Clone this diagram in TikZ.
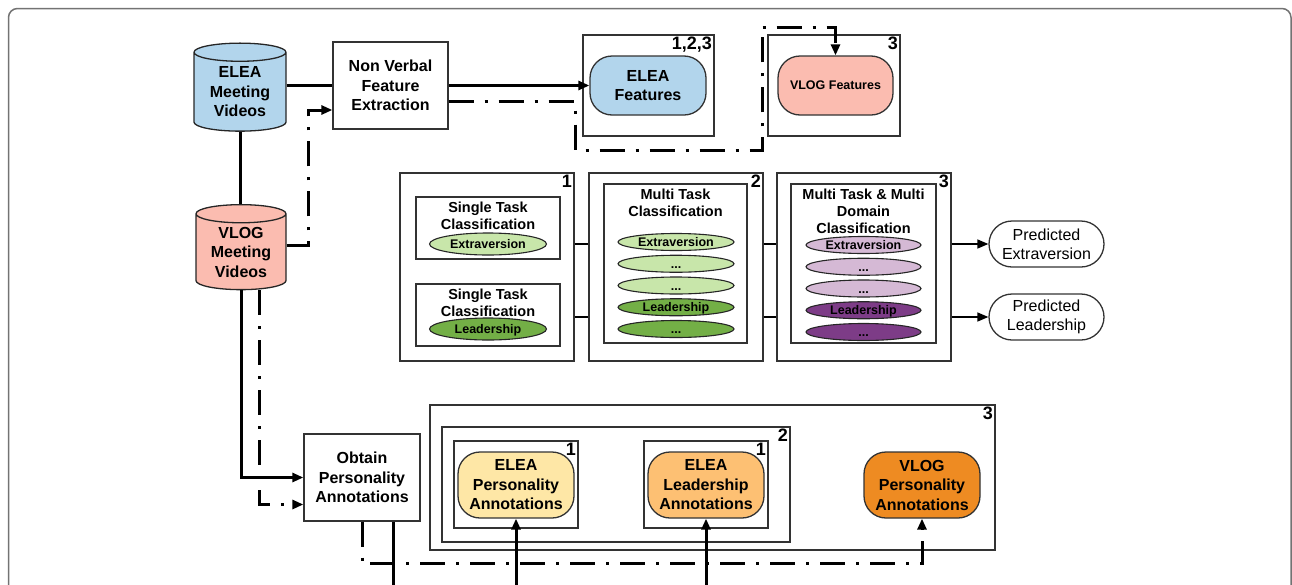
\documentclass[tikz,border=0pt]{standalone}
\usepackage{fontspec}
\setmainfont{Liberation Sans}
\usetikzlibrary{positioning, calc, shapes.geometric, arrows.meta}

\definecolor{eleablue}{RGB}{178,213,236}
\definecolor{vlogpink}{RGB}{251,188,176}
\definecolor{lgreen}{RGB}{200,230,170}
\definecolor{dgreen}{RGB}{115,175,70}
\definecolor{lpurple}{RGB}{213,185,213}
\definecolor{dpurple}{RGB}{125,60,135}
\definecolor{annyellow}{RGB}{254,231,166}
\definecolor{annpeach}{RGB}{253,192,115}
\definecolor{annorange}{RGB}{238,139,34}

\newcommand\txtL{\fontsize{16}{19.5}\selectfont\bfseries}
\newcommand\txtM{\fontsize{14.5}{17}\selectfont\bfseries}
\newcommand\txtS{\fontsize{12.5}{14}\selectfont\bfseries}
\newcommand\txtN{\fontsize{18}{18}\selectfont\bfseries}
\newcommand\etcdots{...}

\begin{document}
\begin{tikzpicture}[x=1pt, y=-1pt,
    box/.style={draw=black!80, line width=1.3pt, inner sep=0pt},
    num/.style={font=\txtN, anchor=north east, inner sep=2.5pt},
    cyl/.style={cylinder, shape border rotate=90, aspect=0.3, draw=black!85,
      line width=1.3pt, inner sep=0pt, align=center, font=\txtL},
    proc/.style={box, fill=white, align=center, font=\txtL},
    feat/.style={box, rounded corners=22pt, align=center},
    pill/.style={ellipse, draw=black!85, line width=1.1pt, inner sep=0pt,
      text height=9pt, text depth=0pt, font=\txtS},
    pred/.style={box, rounded corners=23pt, minimum width=115, minimum height=46,
      align=center, font=\fontsize{16}{19}\selectfont},
    flow/.style={line width=3pt},
    dashflow/.style={line width=3pt, dash pattern=on 25pt off 11pt on 3pt off 11pt},
    thin/.style={line width=1.5pt},
    arr/.style={-{Triangle[length=11pt, width=9pt]}}
  ]
  \clip (0,0) rectangle (1292,584);
  \draw[black!55, line width=1.5pt, rounded corners=9pt] (8.5,8.5) rectangle (1291,650);

  % sources and feature extraction
  \node[cyl, fill=eleablue, minimum width=92, minimum height=88] (eleav) at (240,92) {ELEA\\Meeting\\Videos};
  \node[cyl, fill=vlogpink, minimum width=90, minimum height=85] (vlogv) at (241,252) {VLOG\\Meeting\\Videos};
  \node[proc, minimum width=115, minimum height=87] (nve) at (390.5,85.5) {Non Verbal\\Feature\\Extraction};

  \node[box, minimum width=131, minimum height=101] (fbox1) at (648.5,85.5) {};
  \node[num] at (fbox1.north east) {1,2,3};
  \node[feat, fill=eleablue, minimum width=116, minimum height=59, font=\txtL] (eleaf) at (648,85.5) {ELEA\\Features};
  \node[box, minimum width=132, minimum height=101] (fbox2) at (834,85.5) {};
  \node[num] at (fbox2.north east) {3};
  \node[feat, fill=vlogpink, minimum width=115, minimum height=59, font=\txtS] (vlogf) at (835.5,85.5) {VLOG Features};

  % classifiers
  \node[box, minimum width=174, minimum height=188] (cbox1) at (487,267) {};
  \node[num] at (cbox1.north east) {1};
  \node[box, minimum width=144, minimum height=62] (st1) at (488,228) {};
  \node[font=\txtM, align=center] at ($(st1.north)+(0,19)$) {Single Task\\Classification};
  \node[pill, fill=lgreen, minimum width=117, minimum height=22] (ext1) at (488,244) {Extraversion};
  \node[box, minimum width=144, minimum height=62] (st2) at (488,315) {};
  \node[font=\txtM, align=center] at ($(st2.north)+(0,19)$) {Single Task\\Classification};
  \node[pill, fill=dgreen, minimum width=117, minimum height=22] (lead1) at (488,329) {Leadership};

  \node[box, minimum width=174, minimum height=188] (cbox2) at (676,267) {};
  \node[num] at (cbox2.north east) {2};
  \node[box, minimum width=143, minimum height=159] (mt) at (675.5,263.5) {};
  \node[font=\txtM, align=center] at ($(mt.north)+(0,19)$) {Multi Task\\Classification};
  \foreach \t/\c [count=\k from 0] in {Extraversion/lgreen, \etcdots/lgreen, \etcdots/lgreen, Leadership/dgreen, \etcdots/dgreen} {
    \node[pill, fill=\c, minimum width=116, minimum height=17] (mt\k) at (676,242+\k*21.75) {\t};
  }

  \node[box, minimum width=174, minimum height=188] (cbox3) at (864,267) {};
  \node[num] at (cbox3.north east) {3};
  \node[box, minimum width=145, minimum height=159] (mtmd) at (863.5,263.5) {};
  \node[font=\txtM, align=center] at ($(mtmd.north)+(0,27.5)$) {Multi Task \& Multi\\Domain\\Classification};
  \foreach \t/\c [count=\k from 0] in {Extraversion/lpurple, \etcdots/lpurple, \etcdots/lpurple, Leadership/dpurple, \etcdots/dpurple} {
    \node[pill, fill=\c, minimum width=115, minimum height=17] (md\k) at (863.5,245+\k*21.75) {\t};
  }

  \node[pred] (predE) at (1046.5,244) {Predicted\\Extraversion};
  \node[pred] (predL) at (1046.5,317) {Predicted\\Leadership};

  % annotations
  \node[proc, minimum width=116, minimum height=87] (opa) at (362,477.5) {Obtain\\Personality\\Annotations};
  \node[box, minimum width=565, minimum height=145] (abox3) at (712.5,477.5) {};
  \node[num] at (abox3.north east) {3};
  \node[box, minimum width=348, minimum height=115] (abox2) at (616,484.5) {};
  \node[num] at (abox2.north east) {2};
  \node[box, minimum width=124, minimum height=87] (abox1a) at (516,484.5) {};
  \node[box, minimum width=124, minimum height=87] (abox1b) at (706,484.5) {};
  \node[feat, fill=annyellow, minimum width=116, minimum height=66, font=\txtL] (epa) at (516,485) {ELEA\\Personality\\Annotations};
  \node[feat, fill=annpeach, minimum width=116, minimum height=66, font=\txtL] (ela) at (706,485) {ELEA\\Leadership\\Annotations};
  \node[feat, fill=annorange, minimum width=116, minimum height=66, font=\txtL] (vpa) at (922,485) {VLOG\\Personality\\Annotations};
  \node[num] at (abox1a.north east) {1};
  \node[num] at (abox1b.north east) {1};

  % connectors
  \coordinate (j1) at (575,150);
  \coordinate (j2) at (762,27);
  \coordinate (j3) at (308,110);
  \coordinate (o1) at ($(opa.south)+(31,0)$);
  \coordinate (bot) at (0,620);
  \draw[flow] (eleav.east |- nve) -- (nve.west);
  \draw[flow] (eleav.south) -- (eleav.south |- vlogv.north);
  \draw[flow, arr] (nve.east) -- (eleaf.west);
  \draw[dashflow, arr] ($(nve.east)+(0,15.5)$) -| (j1) -| (j2) -| (vlogf.north);
  \draw[dashflow, arr] (vlogv.east |- 0,245) -| (j3) -- (j3 -| nve.west);
  \draw[flow, arr] (vlogv.south) |- (opa.west);
  \draw[dashflow, arr] ($(vlogv.south)+(18,0)$) |- ($(opa.west)+(0,27)$);
  \draw[dashflow, arr] (opa.south) |- ($(vpa.south)+(0,45)$) -- (vpa.south);
  \draw[flow] (o1) -- (o1 |- bot);
  \draw[flow, arr] (epa.south |- bot) -- (epa.south);
  \draw[flow, arr] (ela.south |- bot) -- (ela.south);

  \draw[thin] (cbox1.east |- predE) -- (cbox2.west |- predE);
  \draw[thin] (cbox1.east |- predL) -- (cbox2.west |- predL);
  \draw[thin] (cbox2.east |- predE) -- (cbox3.west |- predE);
  \draw[thin] (cbox2.east |- predL) -- (cbox3.west |- predL);
  \draw[thin, arr] (cbox3.east |- predE) -- (predE.west);
  \draw[thin, arr] (cbox3.east |- predL) -- (predL.west);
\end{tikzpicture}
\end{document}
